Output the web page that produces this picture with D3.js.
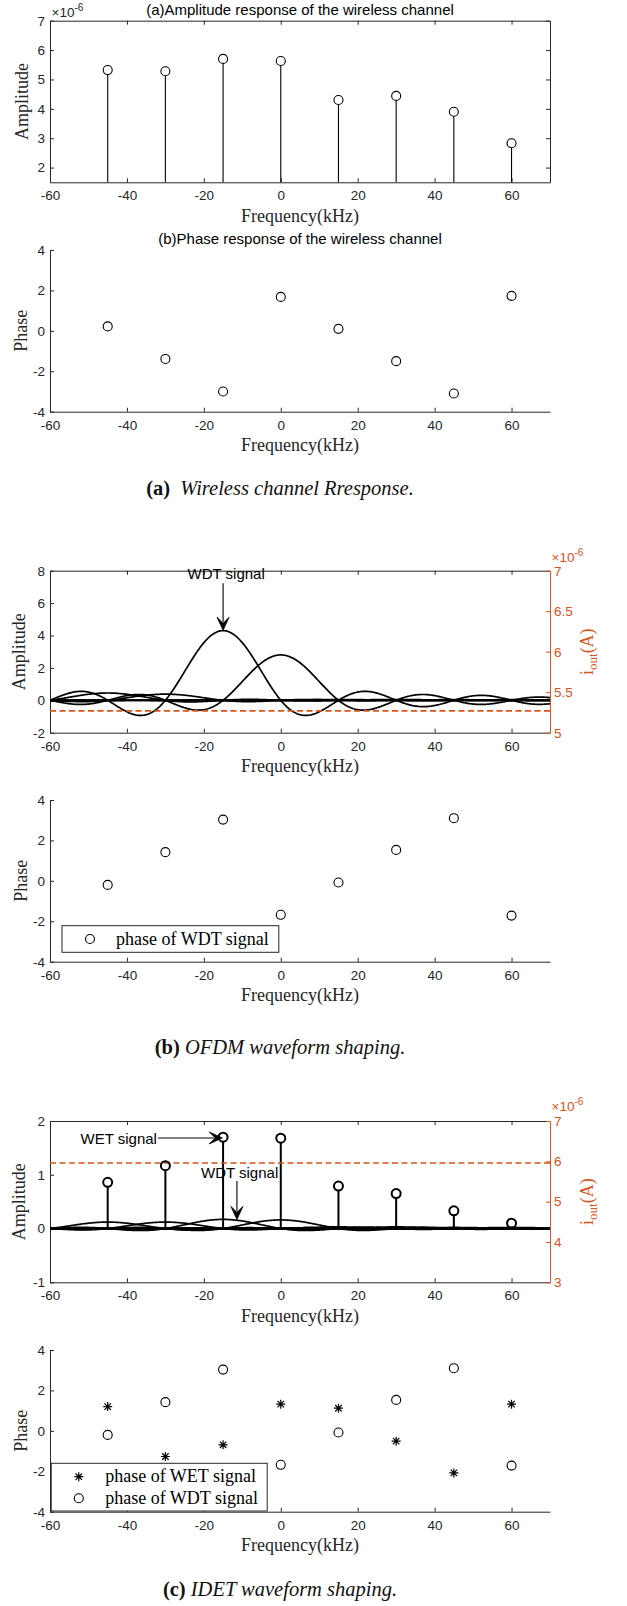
<!DOCTYPE html>
<html><head><meta charset="utf-8">
<script src="https://cdn.jsdelivr.net/npm/d3@7"></script>
<style>body{margin:0;background:#fff}svg{display:block}</style>
</head><body>
<svg id="chart" width="627" height="1606"></svg>
<script>
// ---------- data ----------
const freqs = [-45, -30, -15, 0, 15, 30, 45, 60];            // subcarrier frequencies (kHz)
const xTicks = [-60, -40, -20, 0, 20, 40, 60];
const chanAmp = [5.32, 5.28, 5.70, 5.63, 4.30, 4.44, 3.90, 2.83]; // ×1e-6
const chanAmpTicks = [2, 3, 4, 5, 6, 7];
const chanPhase = [0.22, -1.39, -3.00, 1.68, 0.10, -1.50, -3.10, 1.73];
const phaseTicks = [-4, -2, 0, 2, 4];
const ofdmPulseAmp = [0.45, 0.38, 4.30, 2.80, 0.05, 0.05, 0.04, 0.04];
const ofdmAmpTicks = [-2, 0, 2, 4, 6, 8];
const ofdmIoutTicks = [5, 5.5, 6, 6.5, 7];
const ofdmIout = 5.27;                                        // ×1e-6
const wdtPhase = [-0.20, 1.42, 3.03, -1.68, -0.08, 1.53, 3.10, -1.72];
const wetAmp = [0.86, 1.17, 1.70, 1.68, 0.79, 0.65, 0.33, 0.10];
const wdtPulseAmp = [0.12, 0.12, 0.17, 0.16, 0.03, 0.03, 0.02, 0.02];
const idetAmpTicks = [-1, 0, 1, 2];
const idetIoutTicks = [3, 4, 5, 6, 7];
const idetIout = 5.96;                                        // ×1e-6
const wetPhase = [1.20, -1.27, -0.69, 1.32, 1.12, -0.51, -2.08, 1.32];
const subcarrierSpacing = 15;

// ---------- setup ----------
const svg = d3.select("#chart");
svg.append("rect").attr("width", 627).attr("height", 1606).attr("fill", "#fff");
const L = 50, R = 550;
const AX = "#262626", OR = "#D95319";
const SANS = "'Liberation Sans', Arial, Helvetica, sans-serif";
const SERIF = "'Liberation Serif', 'Times New Roman', serif";
const x = d3.scaleLinear().domain([-60, 70]).range([L, R]);
const fGrid = d3.range(-60, 70.001, 0.25);
const pulse = (f, fc, a) => {
  const u = Math.PI * (f - fc) / subcarrierSpacing;
  return u === 0 ? a : a * Math.sin(u) / u;
};

let clipId = 0;
function panel(top, bottom, domain, ticks, opt) {
  const y = d3.scaleLinear().domain(domain).range([bottom, top]);
  const styleAx = (g, col) => {
    g.attr("font-family", SANS).attr("font-size", 13.5).attr("color", col || AX);
    g.selectAll(".domain").attr("stroke-width", 1);
    g.selectAll(".tick line").attr("stroke-width", 1);
    g.selectAll("text").attr("fill", col || AX);
  };
  const fmt = d => String(d);
  styleAx(svg.append("g").attr("transform", `translate(0,${bottom})`)
    .call(d3.axisBottom(x).tickValues(xTicks).tickSizeInner(-4).tickSizeOuter(0).tickPadding(8.5).tickFormat(fmt)));
  styleAx(svg.append("g").attr("transform", `translate(${L},0)`)
    .call(d3.axisLeft(y).tickValues(ticks).tickSizeInner(-4).tickSizeOuter(0).tickPadding(5).tickFormat(fmt)));
  let yR = null;
  if (opt.box) {
    styleAx(svg.append("g").attr("transform", `translate(0,${top})`)
      .call(d3.axisTop(x).tickValues(xTicks).tickSizeInner(-4).tickSizeOuter(0).tickFormat("")));
    if (opt.right) {
      yR = d3.scaleLinear().domain(opt.right.domain).range([bottom, top]);
      styleAx(svg.append("g").attr("transform", `translate(${R},0)`)
        .call(d3.axisRight(yR).tickValues(opt.right.ticks).tickSizeInner(-4).tickSizeOuter(0).tickPadding(4).tickFormat(fmt)), OR);
    } else {
      styleAx(svg.append("g").attr("transform", `translate(${R},0)`)
        .call(d3.axisRight(y).tickValues(ticks).tickSizeInner(-4).tickSizeOuter(0).tickFormat("")));
    }
  }
  svg.append("text").attr("x", (L + R) / 2).attr("y", bottom + 39.5).attr("text-anchor", "middle")
    .attr("font-family", SERIF).attr("font-size", 18).attr("fill", AX).text("Frequency(kHz)");
  svg.append("text").attr("transform", `translate(${opt.ylx},${(top + bottom) / 2}) rotate(-90)`)
    .attr("text-anchor", "middle").attr("font-family", SERIF).attr("font-size", 18).attr("fill", AX).text(opt.ylabel);
  const id = "clip" + (clipId++);
  svg.append("clipPath").attr("id", id).append("rect").attr("x", L).attr("y", top).attr("width", R - L).attr("height", bottom - top);
  const g = svg.append("g").attr("clip-path", `url(#${id})`);
  return { y, yR, g, top, bottom };
}

function exponent(xp, yp, col) {
  const t = svg.append("text").attr("x", xp).attr("y", yp).attr("font-family", SANS)
    .attr("font-size", 13.5).attr("fill", col);
  t.append("tspan").text("×10");
  t.append("tspan").attr("dy", -6).attr("font-size", 10).text("-6");
}

function rightLabel(p) {
  const t = svg.append("text").attr("transform", `translate(593,${(p.top + p.bottom) / 2}) rotate(-90)`)
    .attr("text-anchor", "middle").attr("font-family", SERIF).attr("font-size", 18).attr("fill", OR);
  t.append("tspan").text("i");
  t.append("tspan").attr("dy", 4).attr("font-size", 13).text("out");
  t.append("tspan").attr("dy", -4).text("(A)");
}

const starPath = (cx, cy) => {
  const r = 4.5, q = r * 0.72;
  return `M${cx - r},${cy}H${cx + r}M${cx},${cy - r}V${cy + r}M${cx - q},${cy - q}L${cx + q},${cy + q}M${cx - q},${cy + q}L${cx + q},${cy - q}`;
};
function circles(g, p, vals, sw) {
  g.selectAll(null).data(freqs.map((f, i) => [f, vals[i]])).join("circle")
    .attr("cx", d => x(d[0])).attr("cy", d => p.y(d[1])).attr("r", 4.5)
    .attr("fill", "none").attr("stroke", "#000").attr("stroke-width", sw || 1.1);
}
function stars(g, p, vals) {
  g.selectAll(null).data(freqs.map((f, i) => [f, vals[i]])).join("path")
    .attr("d", d => starPath(x(d[0]), p.y(d[1])))
    .attr("stroke", "#000").attr("stroke-width", 1.2).attr("fill", "none");
}
function arrowHead(xt, yt, dir) {
  const Lh = 13, Wh = 6, n = 6;
  let d;
  if (dir === "down") d = `M${xt},${yt}L${xt - Wh},${yt - Lh}L${xt},${yt - Lh + n}L${xt + Wh},${yt - Lh}Z`;
  else d = `M${xt},${yt}L${xt - Lh},${yt - Wh}L${xt - Lh + n},${yt}L${xt - Lh},${yt + Wh}Z`;
  svg.append("path").attr("d", d).attr("fill", "#000").attr("stroke", "#000").attr("stroke-width", 0.8);
}
function pulses(g, p, amps, sw) {
  const line = d3.line().x(d => x(d[0])).y(d => p.y(d[1]));
  freqs.forEach((fc, i) => {
    g.append("path").datum(fGrid.map(f => [f, pulse(f, fc, amps[i])]))
      .attr("d", line).attr("fill", "none").attr("stroke", "#000").attr("stroke-width", sw).attr("stroke-linejoin", "round");
  });
}
function caption(yb, tag, rest, gap) {
  const t = svg.append("text").attr("x", 280).attr("y", yb).attr("text-anchor", "middle")
    .attr("font-family", SERIF).attr("font-size", 20.5).attr("fill", "#111");
  t.append("tspan").attr("font-weight", "bold").text(tag);
  t.append("tspan").attr("dx", gap).attr("font-style", "italic").text(" " + rest);
}

// ---------- panel 1: amplitude of channel ----------
const p1 = panel(20.7, 182.3, [1.5, 7], chanAmpTicks, { box: true, ylabel: "Amplitude", ylx: 28 });
p1.g.selectAll(null).data(freqs.map((f, i) => [f, chanAmp[i]])).join("line")
  .attr("x1", d => x(d[0])).attr("x2", d => x(d[0])).attr("y1", p1.bottom).attr("y2", d => p1.y(d[1]) + 4.5)
  .attr("stroke", "#000").attr("stroke-width", 1.1);
circles(svg.append("g"), p1, chanAmp);
exponent(51.5, 16.5, AX);
svg.append("text").attr("x", 300).attr("y", 14.5).attr("text-anchor", "middle").attr("font-family", SANS)
  .attr("font-size", 15).attr("fill", "#000").text("(a)Amplitude response of the wireless channel");

// ---------- panel 2: phase of channel ----------
const p2 = panel(250, 411.7, [-4, 4], phaseTicks, { box: false, ylabel: "Phase", ylx: 27 });
circles(svg.append("g"), p2, chanPhase);
svg.append("text").attr("x", 300).attr("y", 244).attr("text-anchor", "middle").attr("font-family", SANS)
  .attr("font-size", 15).attr("fill", "#000").text("(b)Phase response of the wireless channel");

caption(495, "(a)", "Wireless channel Rresponse.", 5);

// ---------- panel 3: OFDM amplitude ----------
const p3 = panel(570.7, 732.7, [-2, 8], ofdmAmpTicks, { box: true, ylabel: "Amplitude", ylx: 24.5, right: { domain: [5, 7], ticks: ofdmIoutTicks } });
pulses(p3.g, p3, ofdmPulseAmp, 1.7);
p3.g.append("line").attr("x1", L).attr("x2", R).attr("y1", p3.yR(ofdmIout)).attr("y2", p3.yR(ofdmIout))
  .attr("stroke", OR).attr("stroke-width", 1.6).attr("stroke-dasharray", "6,3.5");
exponent(551.5, 561.5, OR);
rightLabel(p3);
svg.append("text").attr("x", x(-14.2)).attr("y", p3.y(7.5)).attr("text-anchor", "middle").attr("font-family", SANS)
  .attr("font-size", 15).attr("fill", "#000").text("WDT signal");
svg.append("line").attr("x1", x(-15)).attr("x2", x(-15)).attr("y1", p3.y(7.22)).attr("y2", p3.y(4.32) - 8)
  .attr("stroke", "#000").attr("stroke-width", 1.1);
arrowHead(x(-15), p3.y(4.32), "down");

// ---------- panel 4: OFDM phase ----------
const p4 = panel(800, 961.7, [-4, 4], phaseTicks, { box: false, ylabel: "Phase", ylx: 27 });
circles(svg.append("g"), p4, wdtPhase);
const lg4 = svg.append("g");
lg4.append("rect").attr("x", 62).attr("y", 925.7).attr("width", 216.8).attr("height", 26.6)
  .attr("fill", "#fff").attr("stroke", AX).attr("stroke-width", 1);
lg4.append("circle").attr("cx", 90).attr("cy", 939).attr("r", 4.5).attr("fill", "none").attr("stroke", "#000").attr("stroke-width", 1.1);
lg4.append("text").attr("x", 116).attr("y", 944.5).attr("font-family", SERIF).attr("font-size", 18).attr("fill", "#000").text("phase of WDT signal");

caption(1054, "(b)", "OFDM waveform shaping.", 0);

// ---------- panel 5: IDET amplitude ----------
const p5 = panel(1121, 1282.3, [-1, 2], idetAmpTicks, { box: true, ylabel: "Amplitude", ylx: 25, right: { domain: [3, 7], ticks: idetIoutTicks } });
pulses(p5.g, p5, wdtPulseAmp, 1.7);
p5.g.append("line").attr("x1", L).attr("x2", R).attr("y1", p5.y(0)).attr("y2", p5.y(0)).attr("stroke", "#000").attr("stroke-width", 2.5);
p5.g.selectAll(null).data(freqs.map((f, i) => [f, wetAmp[i]])).join("line")
  .attr("x1", d => x(d[0])).attr("x2", d => x(d[0])).attr("y1", p5.y(0)).attr("y2", d => p5.y(d[1]) + 4.5)
  .attr("stroke", "#000").attr("stroke-width", 2);
circles(svg.append("g"), p5, wetAmp, 2);
p5.g.append("line").attr("x1", L).attr("x2", R).attr("y1", p5.yR(idetIout)).attr("y2", p5.yR(idetIout))
  .attr("stroke", OR).attr("stroke-width", 1.6).attr("stroke-dasharray", "6,3.5");
exponent(551.5, 1111, OR);
rightLabel(p5);
svg.append("text").attr("x", x(-32.2)).attr("y", p5.y(1.576)).attr("text-anchor", "end").attr("font-family", SANS)
  .attr("font-size", 15).attr("fill", "#000").text("WET signal");
svg.append("line").attr("x1", x(-31.9)).attr("x2", x(-15.2) - 8).attr("y1", p5.y(1.685)).attr("y2", p5.y(1.685))
  .attr("stroke", "#000").attr("stroke-width", 1.1);
arrowHead(x(-15.2), p5.y(1.685), "right");
svg.append("text").attr("x", x(-10.7)).attr("y", p5.y(0.944)).attr("text-anchor", "middle").attr("font-family", SANS)
  .attr("font-size", 15).attr("fill", "#000").text("WDT signal");
svg.append("line").attr("x1", x(-11.4)).attr("x2", x(-11.4)).attr("y1", p5.y(0.885)).attr("y2", p5.y(0.17) - 8)
  .attr("stroke", "#000").attr("stroke-width", 1.1);
arrowHead(x(-11.4), p5.y(0.17), "down");

// ---------- panel 6: IDET phase ----------
const p6 = panel(1350, 1511.7, [-4, 4], phaseTicks, { box: false, ylabel: "Phase", ylx: 27 });
stars(svg.append("g"), p6, wetPhase);
circles(svg.append("g"), p6, wdtPhase);
const lg6 = svg.append("g");
lg6.append("rect").attr("x", 51.2).attr("y", 1463.3).attr("width", 216).attr("height", 47.7)
  .attr("fill", "#fff").attr("stroke", AX).attr("stroke-width", 1);
lg6.append("path").attr("d", starPath(78.8, 1476.7)).attr("stroke", "#000").attr("stroke-width", 1.2).attr("fill", "none");
lg6.append("circle").attr("cx", 78.8).attr("cy", 1498.3).attr("r", 4.5).attr("fill", "none").attr("stroke", "#000").attr("stroke-width", 1.1);
lg6.append("text").attr("x", 105.2).attr("y", 1482).attr("font-family", SERIF).attr("font-size", 18).attr("fill", "#000").text("phase of WET signal");
lg6.append("text").attr("x", 105.2).attr("y", 1503.5).attr("font-family", SERIF).attr("font-size", 18).attr("fill", "#000").text("phase of WDT signal");

caption(1596, "(c)", "IDET waveform shaping.", 0);
</script>
</body></html>
